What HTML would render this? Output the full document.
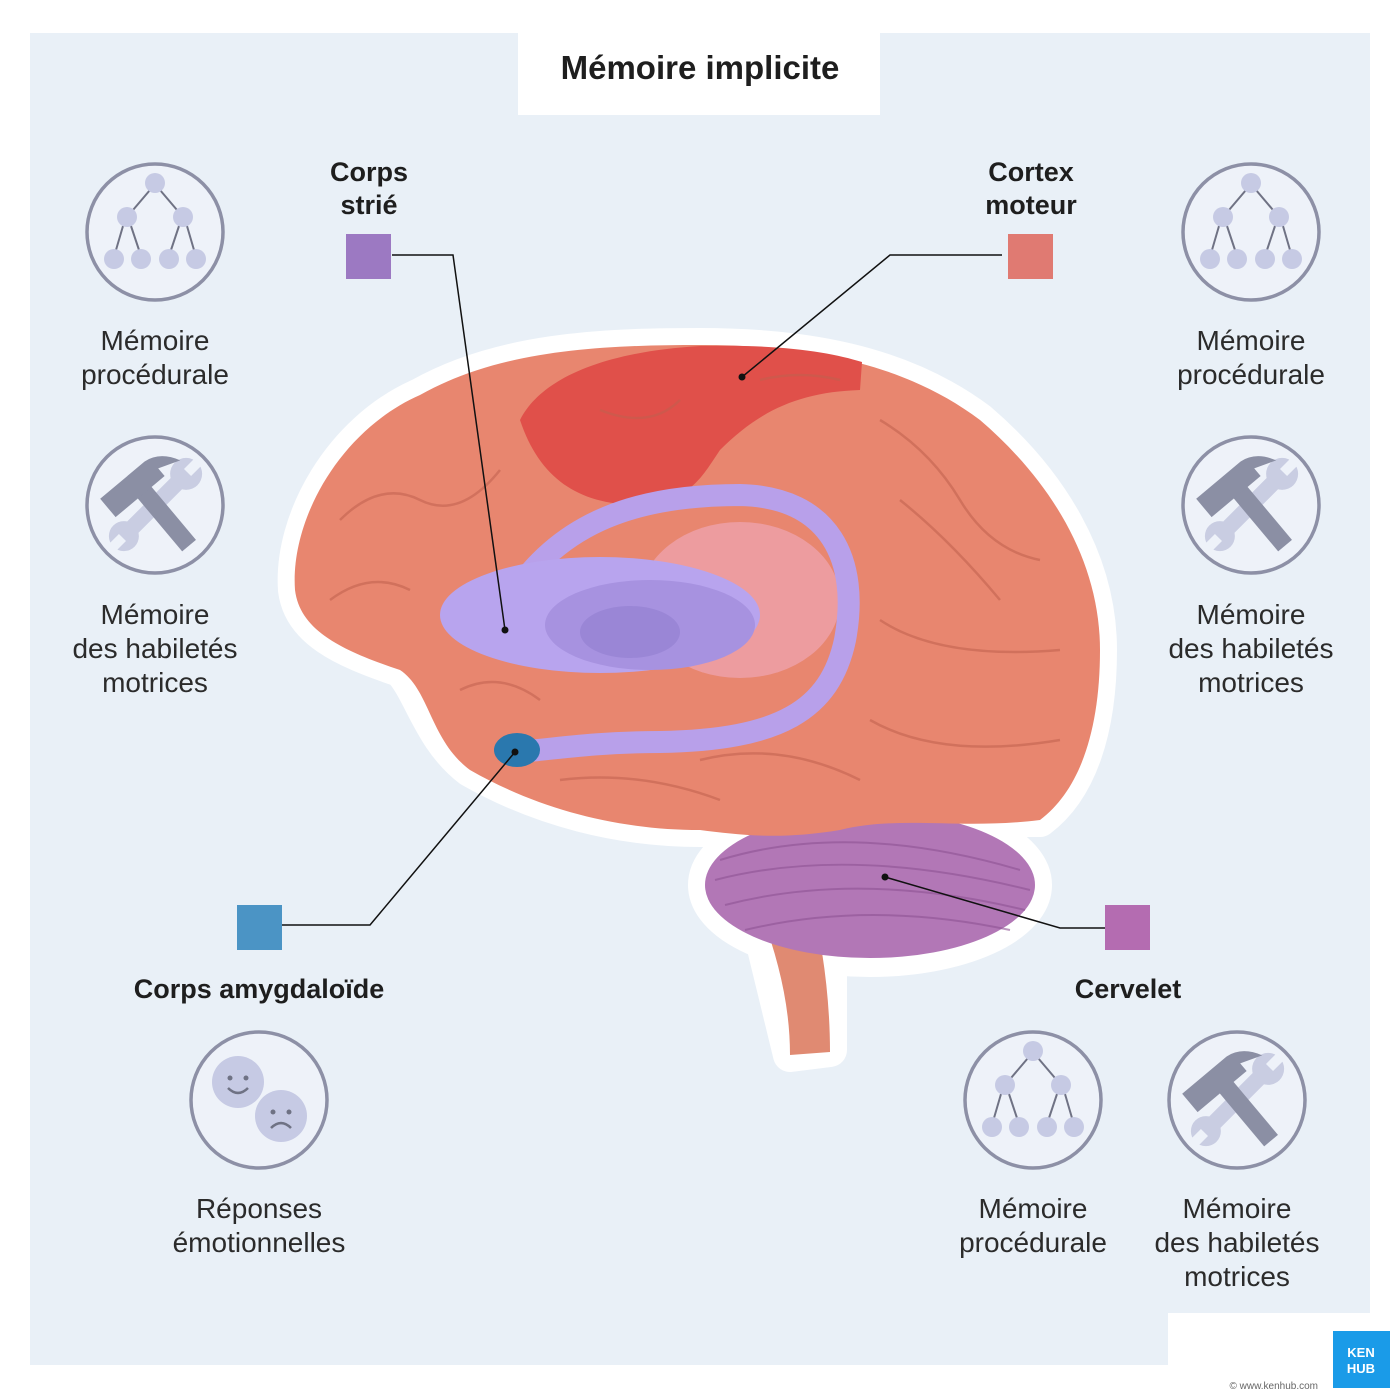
<!DOCTYPE html>
<html><head><meta charset="utf-8"><style>
html,body{margin:0;padding:0;background:#fff}
svg{display:block}
text{font-family:"Liberation Sans",sans-serif;fill:#2b2b2b}
.lbl{font-size:28px;text-anchor:middle}
.b{font-weight:bold;font-size:27px;text-anchor:middle;fill:#1e1e1e}
</style></head><body>
<svg width="1400" height="1400" viewBox="0 0 1400 1400" xmlns="http://www.w3.org/2000/svg">
<defs>
<g id="tree">
<circle r="68" fill="#eef2f9" stroke="#8d90a6" stroke-width="3.5"/>
<g stroke="#6f7284" stroke-width="2" fill="none">
<line x1="-5" y1="-42" x2="-22" y2="-22"/><line x1="5" y1="-42" x2="22" y2="-22"/>
<line x1="-32" y1="-6" x2="-39" y2="18"/><line x1="-24" y1="-6" x2="-16" y2="18"/>
<line x1="24" y1="-6" x2="16" y2="18"/><line x1="32" y1="-6" x2="39" y2="18"/>
</g>
<g fill="#c6cae4"><circle cx="0" cy="-49" r="10"/><circle cx="-28" cy="-15" r="10"/><circle cx="28" cy="-15" r="10"/>
<circle cx="-41" cy="27" r="10"/><circle cx="-14" cy="27" r="10"/><circle cx="14" cy="27" r="10"/><circle cx="41" cy="27" r="10"/></g>
</g>
<g id="tools">
<circle r="68" fill="#eef2f9" stroke="#8d90a6" stroke-width="3.5"/>
<g transform="rotate(45)" fill="#c9cde2"><rect x="-8" y="-42" width="16" height="84" rx="4"/><circle cx="0" cy="-44" r="16"/><circle cx="0" cy="44" r="15"/><rect x="-5" y="-62" width="10" height="16" fill="#eef2f9"/><rect x="-5" y="46" width="10" height="16" fill="#eef2f9"/></g>
<g transform="rotate(-40)" fill="#8b8fa4">
<rect x="-9" y="-22" width="18" height="75"/>
<path d="M-38,-40 L20,-40 Q38,-38 48,-18 L26,-26 L26,-16 L-38,-16 Z"/>
</g>
</g>
</defs>
<rect x="30" y="33" width="1340" height="1332" fill="#e9f0f7"/>
<rect x="518" y="33" width="362" height="82" fill="#fff"/>
<rect x="1168" y="1313" width="232" height="87" fill="#fff"/>
<rect x="1333" y="1331" width="57" height="57" fill="#1a9be8"/>
<text x="1361" y="1357" style="font-size:13px;font-weight:bold;fill:#fff;text-anchor:middle">KEN</text>
<text x="1361" y="1373" style="font-size:13px;font-weight:bold;fill:#fff;text-anchor:middle">HUB</text>
<text x="1318" y="1389" style="font-size:10px;fill:#666;text-anchor:end">© www.kenhub.com</text>
<text x="700" y="79" style="font-size:33px;font-weight:bold;text-anchor:middle;fill:#1e1e1e">Mémoire implicite</text>

<g stroke="#fff" stroke-width="34" stroke-linejoin="round" fill="#fff">
<path d="M295,590 C290,520 340,430 420,395 C500,350 600,345 700,345 C800,345 900,360 980,420 C1050,480 1100,560 1100,650 C1100,730 1080,790 1040,820 L900,820 C820,830 750,830 700,830 C620,830 540,810 470,770 C430,740 420,690 400,670 C340,650 300,630 295,590 Z"/>
<ellipse cx="870" cy="885" rx="165" ry="75"/>
<path d="M745,870 L830,870 L830,1050 L790,1055 Z"/>
</g>
<path d="M740,860 C770,930 790,990 790,1055 L830,1052 C830,990 820,920 800,860 Z" fill="#e08a72"/>
<ellipse cx="870" cy="885" rx="165" ry="73" fill="#b277b6"/>
<g stroke="#8f5394" stroke-width="2" fill="none" opacity=".6">
<path d="M720,860 Q850,820 1020,870"/><path d="M715,880 Q850,845 1030,890"/><path d="M725,905 Q860,870 1025,910"/><path d="M745,930 Q870,900 1010,930"/>
</g>
<path d="M295,590 C290,520 340,430 420,395 C500,350 600,345 700,345 C800,345 900,360 980,420 C1050,480 1100,560 1100,650 C1100,730 1080,790 1040,820 C960,830 900,815 840,830 C780,840 740,835 700,830 C620,830 540,810 470,770 C430,740 430,690 400,670 C340,650 300,630 295,590 Z" fill="#e8866f"/>
<path d="M520,420 C540,380 600,352 700,346 C780,344 830,352 862,362 L860,390 C800,392 760,410 720,450 C700,480 690,500 640,505 C580,505 540,480 520,420 Z" fill="#e0504a"/>
<g stroke="#c0604e" stroke-width="2.5" fill="none" opacity=".55">
<path d="M340,520 Q380,480 420,500 T500,470"/><path d="M330,600 Q370,570 410,590"/><path d="M880,420 Q930,450 960,500 T1040,560"/>
<path d="M900,500 Q950,540 1000,600"/><path d="M880,620 Q940,660 1060,650"/><path d="M870,720 Q940,760 1060,740"/>
<path d="M560,780 Q640,770 720,800"/><path d="M700,760 Q780,740 860,780"/><path d="M460,690 Q500,670 540,700"/>
<path d="M600,410 Q650,430 680,400"/><path d="M760,380 Q800,370 840,380"/>
</g>
<ellipse cx="740" cy="600" rx="100" ry="78" fill="#eda0a8" opacity=".85"/>
<path d="M510,600 C560,520 640,495 740,495 C830,497 860,560 845,640 C830,710 780,740 660,742 C600,742 560,748 520,752" fill="none" stroke="#b8a0ea" stroke-width="22" stroke-linecap="round"/>
<ellipse cx="600" cy="615" rx="160" ry="58" fill="#b8a4ee"/>
<ellipse cx="650" cy="625" rx="105" ry="45" fill="#a792e0"/>
<ellipse cx="630" cy="632" rx="50" ry="26" fill="#9a86d6"/>
<ellipse cx="517" cy="750" rx="23" ry="17" fill="#2a78ae"/>

<g stroke="#111" stroke-width="1.5" fill="none">
<polyline points="392,255 453,255 505,630"/>
<polyline points="1002,255 890,255 742,377"/>
<polyline points="282,925 370,925 515,752"/>
<polyline points="1105,928 1060,928 885,877"/>
</g>
<g fill="#111"><circle cx="505" cy="630" r="3.5"/><circle cx="742" cy="377" r="3.5"/><circle cx="515" cy="752" r="3.5"/><circle cx="885" cy="877" r="3.5"/></g>
<rect x="346" y="234" width="45" height="45" fill="#9c79c2"/>
<rect x="1008" y="234" width="45" height="45" fill="#e07a72"/>
<rect x="237" y="905" width="45" height="45" fill="#4b94c5"/>
<rect x="1105" y="905" width="45" height="45" fill="#b46cb1"/>
<text class="b" x="369" y="181">Corps</text><text class="b" x="369" y="214">strié</text>
<text class="b" x="1031" y="181">Cortex</text><text class="b" x="1031" y="214">moteur</text>
<text class="b" x="259" y="998">Corps amygdaloïde</text>
<text class="b" x="1128" y="998">Cervelet</text>

<use href="#tree" x="155" y="232"/><use href="#tools" x="155" y="505"/>
<use href="#tree" x="1251" y="232"/><use href="#tools" x="1251" y="505"/>
<use href="#tree" x="1033" y="1100"/><use href="#tools" x="1237" y="1100"/>
<circle cx="259" cy="1100" r="68" fill="#eef2f9" stroke="#8d90a6" stroke-width="3.5"/>
<circle cx="238" cy="1082" r="26" fill="#c6cae4"/><circle cx="281" cy="1116" r="26" fill="#c6cae4"/>
<g stroke="#6f7284" stroke-width="2.5" fill="none"><path d="M228,1088 Q238,1098 248,1088"/><path d="M271,1128 Q281,1118 291,1128"/></g>
<g fill="#6f7284"><circle cx="230" cy="1078" r="2.5"/><circle cx="246" cy="1078" r="2.5"/><circle cx="273" cy="1112" r="2.5"/><circle cx="289" cy="1112" r="2.5"/></g>

<text class="lbl" x="155" y="350">Mémoire</text><text class="lbl" x="155" y="384">procédurale</text>
<text class="lbl" x="155" y="624">Mémoire</text><text class="lbl" x="155" y="658">des habiletés</text><text class="lbl" x="155" y="692">motrices</text>
<text class="lbl" x="1251" y="350">Mémoire</text><text class="lbl" x="1251" y="384">procédurale</text>
<text class="lbl" x="1251" y="624">Mémoire</text><text class="lbl" x="1251" y="658">des habiletés</text><text class="lbl" x="1251" y="692">motrices</text>
<text class="lbl" x="259" y="1218">Réponses</text><text class="lbl" x="259" y="1252">émotionnelles</text>
<text class="lbl" x="1033" y="1218">Mémoire</text><text class="lbl" x="1033" y="1252">procédurale</text>
<text class="lbl" x="1237" y="1218">Mémoire</text><text class="lbl" x="1237" y="1252">des habiletés</text><text class="lbl" x="1237" y="1286">motrices</text>
</svg>
</body></html>
